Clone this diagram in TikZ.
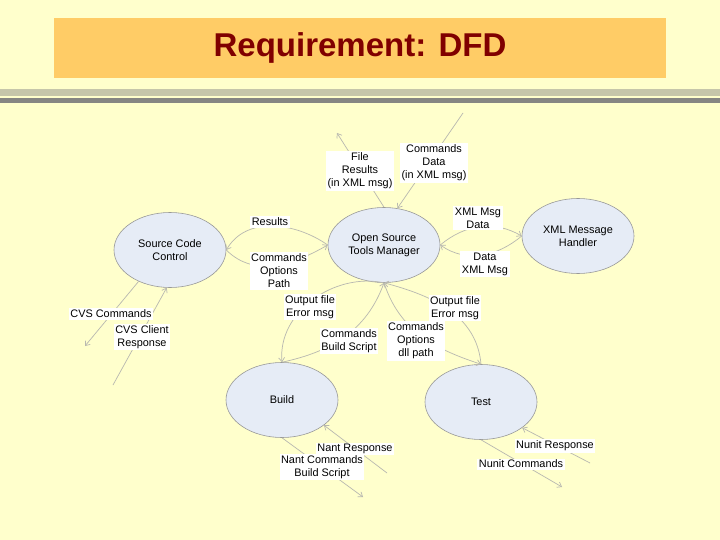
\documentclass[tikz,border=0pt]{standalone}
\usepackage{fontspec}
\setmainfont{Liberation Sans}
\usetikzlibrary{arrows.meta,shapes.geometric}
\definecolor{bgyellow}{HTML}{FFFFCC}
\definecolor{titlebox}{HTML}{FFCC66}
\definecolor{titletext}{HTML}{800000}
\definecolor{ellfill}{HTML}{E6ECF6}
\definecolor{ellline}{HTML}{989898}
\definecolor{flow}{HTML}{B8B8B0}
\tikzset{
  proc/.style={ellipse, draw=ellline, fill=ellfill, line width=0.6pt,
    minimum width=112pt, minimum height=75pt, inner sep=0pt, align=center,
    font=\fontsize{10.9}{13}\selectfont},
  lbl/.style={fill=white, inner sep=1.5pt, align=center,
    font=\fontsize{10.9}{13}\selectfont},
  flowline/.style={draw=flow, line width=0.7pt,
    -{Straight Barb[length=4pt,width=6pt]}},
}
\begin{document}
\begin{tikzpicture}[x=1pt,y=-1pt]
\useasboundingbox (0,0) rectangle (720,540);
\fill[bgyellow] (0,0) rectangle (720,540);
% title
\fill[titlebox] (54,18) rectangle (666,78);
\node[font=\fontsize{33}{36}\selectfont\bfseries, text=titletext] (title) at (360,48) {Requirement: DFD};
% bars
\shade[left color=gray!45!bgyellow, middle color=gray!15!bgyellow, right color=gray!45!bgyellow] (0,90) rectangle (720,95.7);
\shade[left color=gray!95!bgyellow, middle color=gray!45!bgyellow, right color=gray!95!bgyellow] (0,99) rectangle (720,103);

% processes
\node[proc] (scc) at (170,250) {Source Code\\Control};
\node[proc] (osm) at (384,245) {Open Source\\Tools Manager};
\node[proc] (xml) at (578,236) {XML Message\\Handler};
\node[proc] (build) at (282,400) {Build};
\node[proc] (test) at (481,402) {Test};

% free ends
\coordinate (fileout) at (337,133);
\coordinate (cmdin) at (463,113);
\coordinate (cvsout) at (85,346);
\coordinate (cvsin) at (113,385);
\coordinate (nantin) at (387,473);
\coordinate (nantout) at (363,497);
\coordinate (nunitin) at (590,463);
\coordinate (nunitout) at (562,487);

% connectors
\draw[flowline] (osm.north) -- (fileout);
\draw[flowline] (cmdin) -- (osm.70);
\draw[flowline] (osm.west) to[out=145,in=60] (scc.east);
\draw[flowline] (scc.east) to[out=-45,in=-150] (osm.west);
\draw[flowline] (osm.east) to[out=40,in=150] (xml.west);
\draw[flowline] (xml.west) to[out=-140,in=-35] (osm.east);
\draw[flowline] (scc.-135) -- (cvsout);
\draw[flowline] (cvsin) -- (scc.-95);
\draw[flowline] (osm.south) to[out=168,in=95] (build.north);
\draw[flowline] (build.north) to[out=12,in=-110] (osm.south);
\draw[flowline] (osm.south) to[out=-72,in=162] (test.north);
\draw[flowline] (test.north) to[out=95,in=-15] (osm.south);
\draw[flowline] (nantin) -- (build.-31);
\draw[flowline] (build.south) -- (nantout);
\draw[flowline] (nunitin) -- (test.-32);
\draw[flowline] (test.south) -- (nunitout);

% labels
\node[lbl] (l1) at (360,171) {File\\Results\\(in XML msg)};
\node[lbl] (l2) at (434,163) {Commands\\Data\\(in XML msg)};
\node[lbl] (l3) at (270,222) {Results};
\node[lbl] (l4) at (279,271) {Commands\\Options\\Path};
\node[lbl] (l5) at (478,218) {XML Msg\\Data};
\node[lbl] (l6) at (485,264) {Data\\XML Msg};
\node[lbl] (l7) at (111,314) {CVS Commands};
\node[lbl] (l8) at (142,337) {CVS Client\\Response};
\node[lbl] (l9) at (310,307) {Output file\\Error msg};
\node[lbl] (l10) at (349,341) {Commands\\Build Script};
\node[lbl] (l11) at (416,341) {Commands\\Options\\dll path};
\node[lbl] (l12) at (455,308) {Output file\\Error msg};
\node[lbl] (l13) at (355,449) {Nant Response};
\node[lbl] (l14) at (322,467) {Nant Commands\\Build Script};
\node[lbl] (l15) at (555,446) {Nunit Response};
\node[lbl] (l16) at (521,464) {Nunit Commands};
\end{tikzpicture}
\end{document}
